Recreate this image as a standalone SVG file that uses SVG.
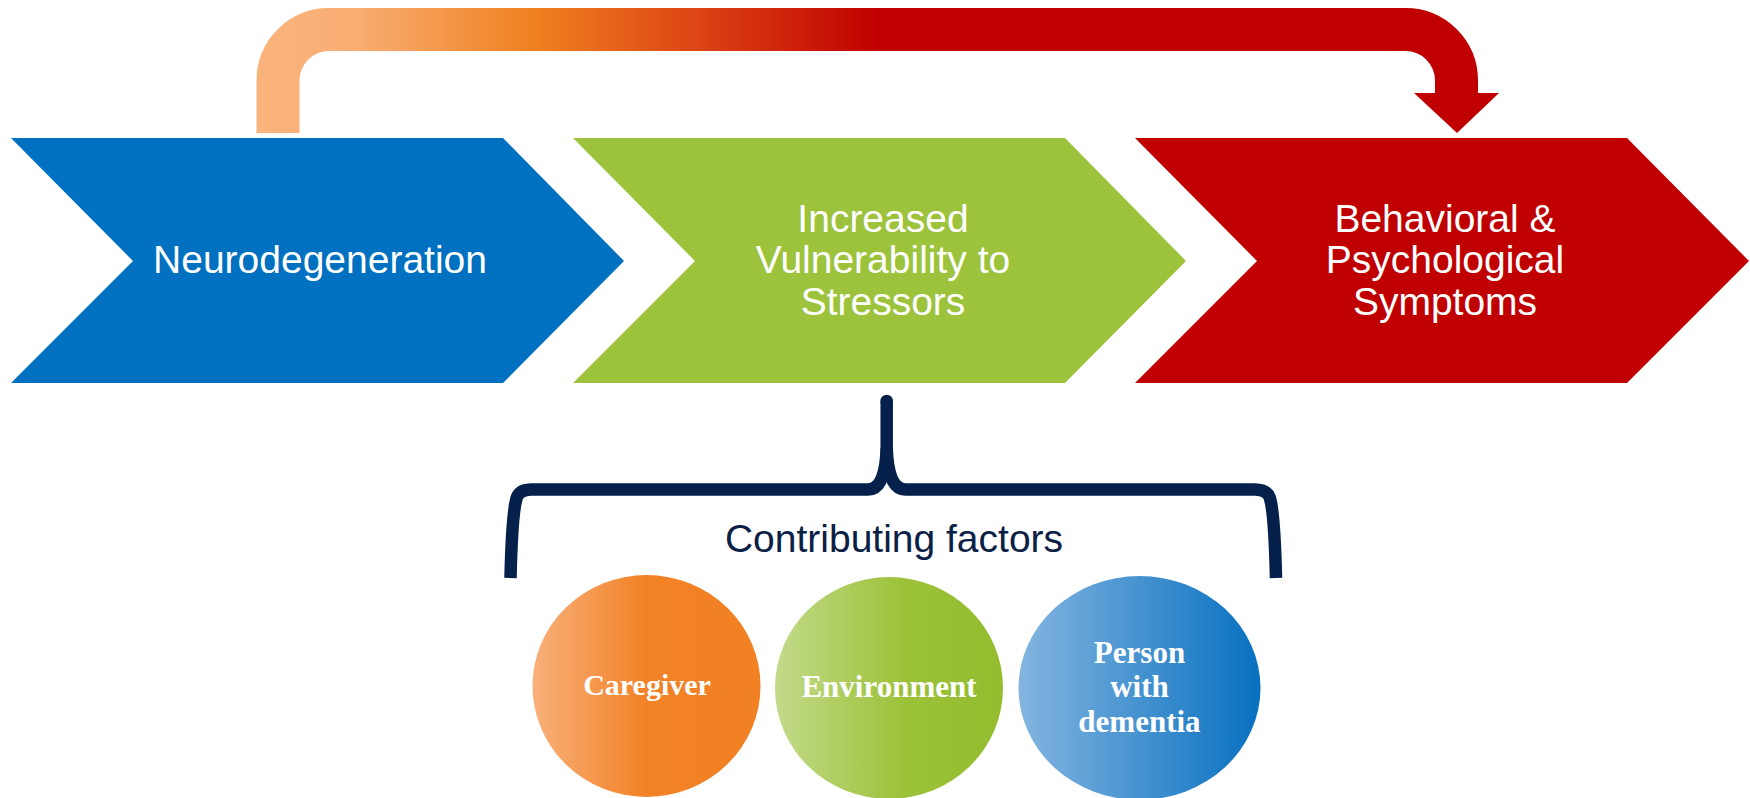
<svg xmlns="http://www.w3.org/2000/svg" width="1750" height="798" viewBox="0 0 1750 798">
  <defs>
    <linearGradient id="loopGrad" gradientUnits="userSpaceOnUse" x1="257" y1="0" x2="1499" y2="0">
      <stop offset="0" stop-color="#F9B47C"/>
      <stop offset="0.08" stop-color="#F8AD72"/>
      <stop offset="0.224" stop-color="#F08020"/>
      <stop offset="0.356" stop-color="#DC4414"/>
      <stop offset="0.5" stop-color="#C00000"/>
      <stop offset="1" stop-color="#C00000"/>
    </linearGradient>
    <linearGradient id="orangeGrad" x1="0" y1="0" x2="1" y2="0">
      <stop offset="0" stop-color="#F8B07A"/>
      <stop offset="0.5" stop-color="#F28226"/>
      <stop offset="1" stop-color="#F28124"/>
    </linearGradient>
    <linearGradient id="greenGrad" x1="0" y1="0" x2="1" y2="0">
      <stop offset="0" stop-color="#C3DA8A"/>
      <stop offset="0.55" stop-color="#9DC23A"/>
      <stop offset="1" stop-color="#93BC2E"/>
    </linearGradient>
    <linearGradient id="blueGrad" x1="0" y1="0" x2="1" y2="0">
      <stop offset="0" stop-color="#84B5E0"/>
      <stop offset="1" stop-color="#0770C0"/>
    </linearGradient>
    <style>
      .step { font-family: "Liberation Sans", Arial, sans-serif; font-size: 39px; fill: #FFFFFF; text-anchor: middle; }
      .factor { font-family: "Liberation Serif", "Times New Roman", serif; font-weight: bold; font-size: 31px; fill: #FFFFFF; text-anchor: middle; }
      .heading { font-family: "Liberation Sans", Arial, sans-serif; font-size: 39px; fill: #0B2045; text-anchor: middle; }
      .brace { fill: none; stroke: #05204A; stroke-width: 12.5; stroke-linejoin: round; }
    </style>
  </defs>

  <rect width="1750" height="798" fill="#FFFFFF"/>

  <!-- process chevrons -->
  <g id="neurodegeneration">
    <polygon points="11,138 503,138 624,261 503,383 11,383 133,261" fill="#0070C0"/>
    <text class="step" x="320" y="273">Neurodegeneration</text>
  </g>
  <g id="vulnerability">
    <polygon points="573,138 1065,138 1186,261 1065,383 573,383 695,261" fill="#9DC33C"/>
    <text class="step" x="883" y="232">Increased</text>
    <text class="step" x="883" y="273">Vulnerability to</text>
    <text class="step" x="883" y="315">Stressors</text>
  </g>
  <g id="symptoms">
    <polygon points="1135,138 1627,138 1749,261 1627,383 1135,383 1257,261" fill="#C00000"/>
    <text class="step" x="1445" y="232">Behavioral &amp;</text>
    <text class="step" x="1445" y="273">Psychological</text>
    <text class="step" x="1445" y="315">Symptoms</text>
  </g>

  <!-- connectors: loop arrow over the chevrons and the brace below -->
  <g id="connectors">
    <path d="M278,133 V80.5 A51,51 0 0 1 329,29.5 H1405.5 A51,51 0 0 1 1456.5,80.5 V94" fill="none" stroke="url(#loopGrad)" stroke-width="43"/>
    <polygon points="1414,93 1499,93 1457,133" fill="#C00000"/>
    <path class="brace" d="M510.5,578 C511.5,535 513,508 517,497 Q520,489.5 532,489.5 H868 C881,489.5 886,472 886.7,448 V401" stroke-linecap="butt"/>
    <path class="brace" d="M1276,578 C1275,535 1273.5,508 1269.5,497 Q1266.5,489.5 1254.5,489.5 H905.5 C892.5,489.5 887.4,472 886.7,448"/>
    <circle cx="886.7" cy="401" r="6.25" fill="#05204A"/>
  </g>

  <g id="contributing-factors">
    <text class="heading" x="894" y="552">Contributing factors</text>
  </g>

  <!-- contributing factor circles -->
  <g id="caregiver">
    <ellipse cx="646.5" cy="686" rx="114" ry="111" fill="url(#orangeGrad)"/>
    <text class="factor" x="647" y="695" style="font-size:30px">Caregiver</text>
  </g>
  <g id="environment">
    <ellipse cx="889" cy="688" rx="114" ry="111" fill="url(#greenGrad)"/>
    <text class="factor" x="889" y="697">Environment</text>
  </g>
  <g id="person-with-dementia">
    <ellipse cx="1139.5" cy="688" rx="121" ry="112" fill="url(#blueGrad)"/>
    <text class="factor" x="1139.5" y="663">Person</text>
    <text class="factor" x="1139.5" y="697">with</text>
    <text class="factor" x="1139.5" y="732">dementia</text>
  </g>
</svg>
